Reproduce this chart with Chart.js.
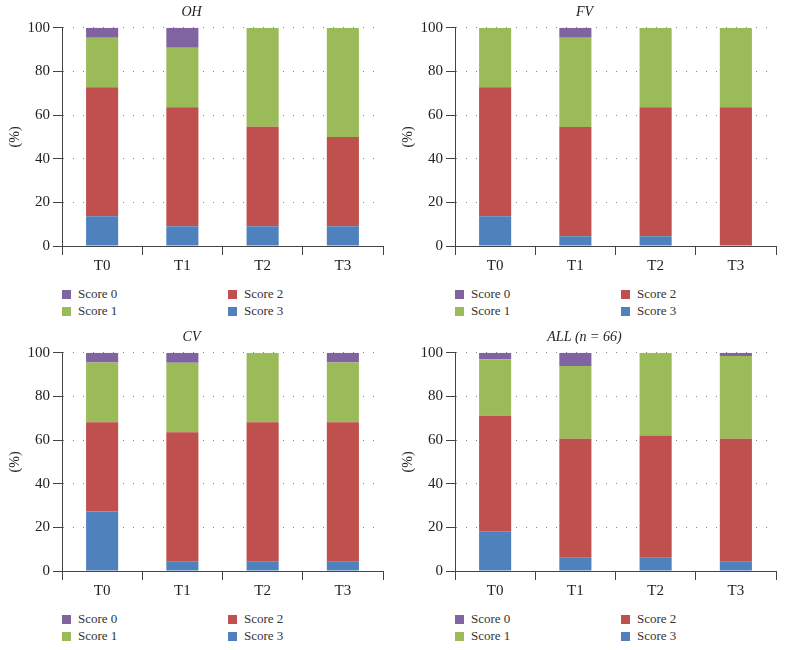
<!DOCTYPE html>
<html>
<head>
  <title>Scores by time point</title>
  <script src="https://cdn.jsdelivr.net/npm/chart.js"></script>
  <style>
    body { margin: 0; background: #fff; }
    #wrap { position: relative; width: 786px; height: 650px; font-family: "Liberation Serif", serif; }
    .panel { position: absolute; width: 393px; height: 325px; }
    .panel canvas { position: absolute; left: 0; top: 0; }
    .legend { position: absolute; left: 62px; top: 286px; width: 320px; font-size: 13px; color: #333; }
    .item { position: absolute; white-space: nowrap; line-height: 16px; }
    .item span { display: inline-block; width: 9px; height: 9px; margin-right: 7px; vertical-align: -1px; }
  </style>
</head>
<body>
<div id="wrap"></div>
<script>
  const categories = ['T0', 'T1', 'T2', 'T3'];
  const yTicks = [0, 20, 40, 60, 80, 100];

  // percentages (bottom to top: Score 3, 2, 1, 0)
  const ohScore3 = [13.6, 9.1, 9.1, 9.1];
  const ohScore2 = [59.1, 54.5, 45.5, 40.9];
  const ohScore1 = [22.7, 27.3, 45.4, 50.0];
  const ohScore0 = [4.6, 9.1, 0, 0];

  const fvScore3 = [13.6, 4.5, 4.5, 0];
  const fvScore2 = [59.1, 50.0, 59.1, 63.6];
  const fvScore1 = [27.3, 40.9, 36.4, 36.4];
  const fvScore0 = [0, 4.6, 0, 0];

  const cvScore3 = [27.3, 4.5, 4.5, 4.5];
  const cvScore2 = [40.9, 59.1, 63.7, 63.7];
  const cvScore1 = [27.3, 31.8, 31.8, 27.3];
  const cvScore0 = [4.5, 4.6, 0, 4.5];

  const allScore3 = [18.2, 6.1, 6.1, 4.5];
  const allScore2 = [53.0, 54.5, 56.0, 56.1];
  const allScore1 = [25.8, 33.3, 37.9, 37.9];
  const allScore0 = [3.0, 6.1, 0, 1.5];

  const scoreNames = ['Score 3', 'Score 2', 'Score 1', 'Score 0'];
  const scoreColors = ['#4f81bd', '#c0504d', '#9bbb59', '#8064a2'];

  const panels = [
    { title: 'OH', x: 0, y: 0, data: [ohScore3, ohScore2, ohScore1, ohScore0] },
    { title: 'FV', x: 393, y: 0, data: [fvScore3, fvScore2, fvScore1, fvScore0] },
    { title: 'CV', x: 0, y: 325, data: [cvScore3, cvScore2, cvScore1, cvScore0] },
    { title: 'ALL (n = 66)', x: 393, y: 325, data: [allScore3, allScore2, allScore1, allScore0] }
  ];

  const font = { family: '"Liberation Serif", serif', size: 15 };
  const wrap = document.getElementById('wrap');

  panels.forEach(p => {
    const div = document.createElement('div');
    div.className = 'panel';
    div.style.left = p.x + 'px';
    div.style.top = p.y + 'px';
    const canvas = document.createElement('canvas');
    canvas.width = 393;
    canvas.height = 275;
    div.appendChild(canvas);

    // legend: Score 0 / Score 1 on the left, Score 2 / Score 3 on the right
    const legend = document.createElement('div');
    legend.className = 'legend';
    const spots = [[3, 0, 0], [2, 0, 17], [1, 166, 0], [0, 166, 17]];
    spots.forEach(([i, lx, ly]) => {
      const it = document.createElement('div');
      it.className = 'item';
      it.style.left = lx + 'px';
      it.style.top = ly + 'px';
      it.innerHTML = '<span style="background:' + scoreColors[i] + '"></span>' + scoreNames[i];
      legend.appendChild(it);
    });
    div.appendChild(legend);
    wrap.appendChild(div);

    new Chart(canvas.getContext('2d'), {
      type: 'bar',
      data: {
        labels: categories,
        datasets: p.data.map((d, i) => ({
          label: scoreNames[i],
          data: d,
          backgroundColor: scoreColors[i],
          borderWidth: 0,
          categoryPercentage: 1,
          barPercentage: 0.4
        }))
      },
      options: {
        responsive: false,
        animation: false,
        layout: { padding: { left: 0, right: 10, top: 0, bottom: 0 } },
        plugins: {
          legend: { display: false },
          tooltip: { enabled: false },
          title: {
            display: true,
            text: p.title,
            color: '#222',
            font: { family: font.family, size: 14, style: 'italic', weight: 'normal' },
            padding: { top: 4, bottom: 7 }
          }
        },
        scales: {
          x: {
            stacked: true,
            afterFit: s => { s.height = 29; },
            grid: { offset: true, drawOnChartArea: false, drawTicks: true, tickLength: 9, color: '#444' },
            border: { color: '#444', width: 1 },
            ticks: { color: '#222', font: font, padding: 2 }
          },
          y: {
            stacked: true,
            min: 0,
            max: 100,
            afterFit: s => { s.width = 62; },
            afterBuildTicks: s => { s.ticks = yTicks.map(v => ({ value: v })); },
            grid: { color: '#888', drawTicks: true, tickLength: 9, tickColor: '#444', lineWidth: 1 },
            border: { color: '#444', width: 1, dash: [1, 9] },
            ticks: { color: '#222', font: font, padding: 3 },
            title: { display: true, text: '(%)', color: '#222', font: { family: font.family, size: 14 }, padding: { top: 7, bottom: 0 } }
          }
        }
      }
    });
  });
</script>
</body>
</html>
